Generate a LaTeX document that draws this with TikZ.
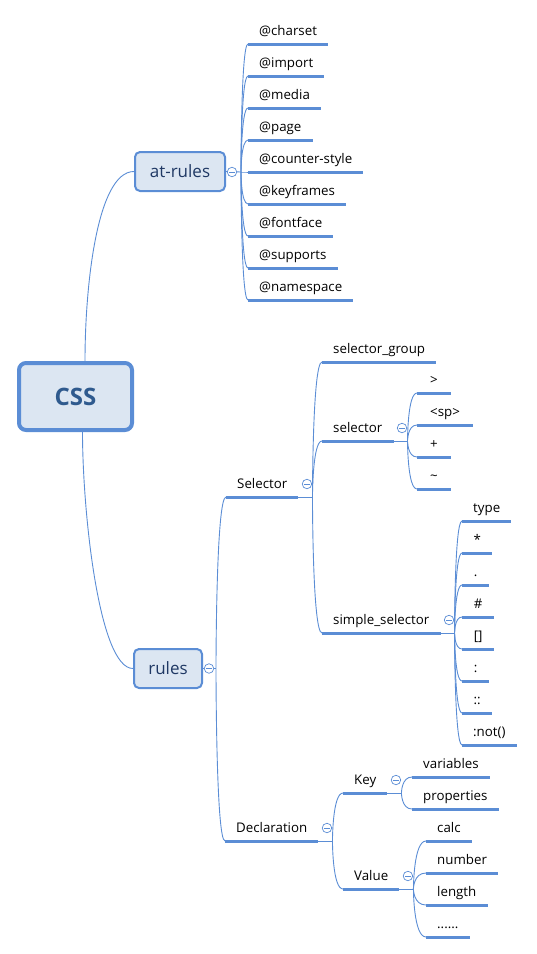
\documentclass[tikz,border=0pt]{standalone}
\usepackage{fontspec}
\setmainfont{Open Sans}
\usetikzlibrary{calc}
\definecolor{lineblue}{HTML}{5B8DD5}
\definecolor{boxfill}{HTML}{DCE6F2}
\definecolor{boxtext}{HTML}{1F3864}
\definecolor{csstext}{HTML}{2F5A8E}
\tikzset{
 conn/.style={draw=lineblue, line width=0.9pt},
 uline/.style={draw=lineblue, line width=3pt},
 leaf/.style={anchor=south west, inner xsep=11pt, inner ysep=0pt, text height=10pt, text depth=8.5pt, font=\fontsize{13.3}{15}\selectfont, text=black},
 topic/.style={draw=lineblue, fill=boxfill, line width=2pt, rounded corners=5pt, inner sep=0pt, font=\fontsize{17}{20}\selectfont, text=boxtext},
 collapse/.style={circle, draw=lineblue, fill=white, line width=0.7pt, minimum size=9.5pt, inner sep=0pt,
   path picture={\draw[lineblue, line width=0.7pt] ([xshift=-2.6pt]path picture bounding box.center) -- ([xshift=2.6pt]path picture bounding box.center);}},
}
\begin{document}
\begin{tikzpicture}[x=1pt,y=-1pt]
\useasboundingbox (0,0) rectangle (536,954);
% main topics
\node[topic, line width=4pt, rounded corners=7pt, minimum width=113pt, minimum height=67pt, font=\fontsize{24}{28}\selectfont\bfseries, text=csstext] (css) at (75.5,396.5) {CSS};
\node[topic, minimum width=90pt, minimum height=39pt] (atrules) at (180,171.5) {at-rules};
\node[topic, minimum width=68pt, minimum height=39pt] (rules) at (168,668.5) {rules};
% at-rules children
\node[leaf] (charset) at (248,44) {@charset};
\node[leaf] (import) at (248,76) {@import};
\node[leaf] (media) at (248,108) {@media};
\node[leaf] (page) at (248,140) {@page};
\node[leaf] (counter) at (248,172) {@counter-style};
\node[leaf] (keyframes) at (248,204) {@keyframes};
\node[leaf] (fontface) at (248,236) {@fontface};
\node[leaf] (supports) at (248,268) {@supports};
\node[leaf] (namespace) at (248,300) {@namespace};
% rules children
\node[leaf] (selector) at (226,497) {Selector};
\node[leaf] (declaration) at (225,841) {Declaration};
% Selector children
\node[leaf] (sgroup) at (322,362) {selector\_group};
\node[leaf] (sel) at (322,441) {selector};
\node[leaf] (simple) at (322,633) {simple\_selector};
% selector children
\node[leaf, inner xsep=13pt] (gt) at (417,393) {>};
\node[leaf, inner xsep=13pt] (sp) at (417,425) {<sp>};
\node[leaf, inner xsep=13pt] (plus) at (417,457) {+};
\node[leaf, inner xsep=13pt] (tilde) at (417,489) {\textasciitilde};
% simple_selector children
\node[leaf] (type) at (462,521) {type};
\node[leaf, minimum width=30pt] (star) at (462,553) {*};
\node[leaf, minimum width=27pt] (dot) at (462,585) {.};
\node[leaf, minimum width=32pt] (hash) at (462,617) {\#};
\node[leaf, minimum width=32pt] (attr) at (462,649) {[]};
\node[leaf, minimum width=27pt] (colon) at (462,681) {:};
\node[leaf, minimum width=30pt] (dcolon) at (462,713) {::};
\node[leaf] (not) at (462,745) {:not()};
% Declaration children
\node[leaf] (key) at (343,793) {Key};
\node[leaf] (value) at (343,889) {Value};
% Key children
\node[leaf] (variables) at (412,777) {variables};
\node[leaf] (properties) at (412,809) {properties};
% Value children
\node[leaf] (calc) at (426,841) {calc};
\node[leaf] (number) at (426,873) {number};
\node[leaf] (length) at (426,905) {length};
\node[leaf] (dots) at (426,937) {......};
% underlines
\foreach \n in {charset,import,media,page,counter,keyframes,fontface,supports,namespace,
  selector,declaration,sgroup,sel,simple,gt,sp,plus,tilde,type,star,dot,hash,attr,colon,dcolon,not,
  key,value,variables,properties,calc,number,length,dots}
  \draw[uline] (\n.south west) -- (\n.south east);
% junctions
\coordinate (jA) at (241,172);
\coordinate (jR) at (216,668.5);
\foreach \n in {selector,sel,simple,declaration,key,value}
  \coordinate (j\n) at ($(\n.south east)+(14,0)$);
% CSS to main topics
\draw[conn] ([xshift=9.5pt]css.north) .. controls +(0,-75) and +(-37,0) .. (atrules.west);
\draw[conn] ([xshift=7pt]css.south) .. controls +(0,80) and +(-34,0) .. (rules.west);
% at-rules branch
\draw[conn] (atrules.east) -- (jA);
\foreach \c in {charset,import,media,page,counter,keyframes,fontface,supports,namespace}
  \draw[conn] (jA) .. controls (jA) and (jA |- \c.south west) .. (\c.south west);
% rules branch
\draw[conn] (rules.east) -- (jR);
\foreach \c in {selector,declaration}
  \draw[conn] (jR) .. controls (jR) and (jR |- \c.south west) .. (\c.south west);
% sub branches
\foreach \p/\cs in {selector/{sgroup,sel,simple}, sel/{gt,sp,plus,tilde},
   simple/{type,star,dot,hash,attr,colon,dcolon,not}, declaration/{key,value},
   key/{variables,properties}, value/{calc,number,length,dots}}{
  \draw[conn] (\p.south east) -- (j\p);
  \foreach \c in \cs
    \draw[conn] (j\p) .. controls (j\p) and (j\p |- \c.south west) .. (\c.south west);
}
% collapse markers
\node[collapse] (cA) at (232,172) {};
\node[collapse] (cR) at (209,668.5) {};
\foreach \n in {selector,sel,simple,declaration,key,value}
  \node[collapse] (c\n) at ($(\n.south east)+(8.5,-13)$) {};
\end{tikzpicture}
\end{document}
